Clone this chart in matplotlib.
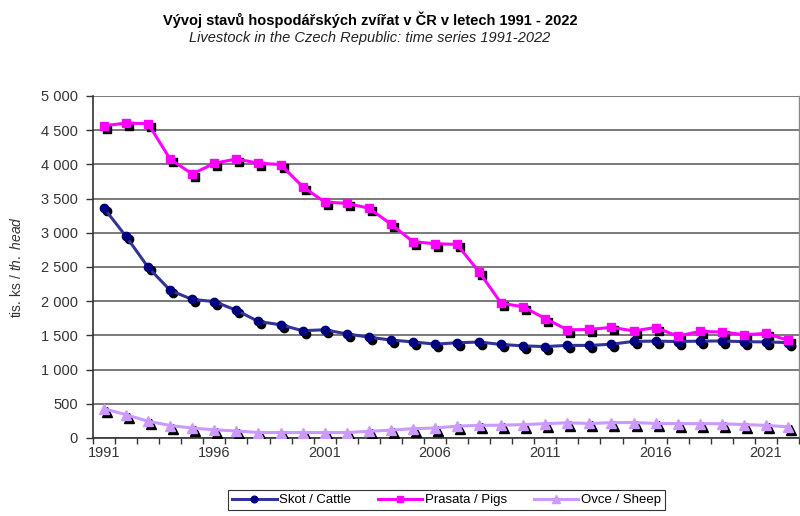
import matplotlib
matplotlib.use("Agg")
import matplotlib.pyplot as plt
import matplotlib.transforms as mtransforms
from matplotlib.ticker import FuncFormatter, FixedLocator
import numpy as np

# ============================================================
# Data (thousands of head)
# ============================================================
years = list(range(1991, 2023))

cattle = [3359, 2947, 2495, 2158, 2025, 1995, 1866, 1703, 1655, 1568,
          1582, 1522, 1474, 1432, 1405, 1372, 1392, 1403, 1367, 1347,
          1336, 1354, 1353, 1371, 1412, 1416, 1410, 1416, 1418, 1408,
          1404, 1395]

pigs = [4565, 4603, 4595, 4075, 3860, 4016, 4079, 4017, 3998, 3675,
        3450, 3430, 3360, 3129, 2870, 2840, 2830, 2428, 1971, 1918,
        1745, 1582, 1586, 1618, 1565, 1615, 1490, 1557, 1550, 1510,
        1528, 1430]

sheep = [428, 340, 245, 182, 145, 120, 102, 80, 80, 80,
         80, 80, 97, 114, 136, 146, 172, 185, 187, 196,
         209, 222, 212, 224, 226, 212, 210, 209, 208, 196,
         185, 162]

series = [
    ("Skot / Cattle", cattle, "#333399", "#000080", "o", 6),
    ("Prasata / Pigs", pigs, "#FF00FF", "#FF00FF", "s", 6),
    ("Ovce / Sheep", sheep, "#CC99FF", "#CC99FF", "^", 7),
]

title_cz = "Vývoj stavů hospodářských zvířat v ČR v letech 1991 - 2022"
title_en = "Livestock in the Czech Republic: time series 1991-2022"

# ============================================================
# Style
# ============================================================
plt.rcParams["font.family"] = ["Liberation Sans", "DejaVu Sans"]
plt.rcParams["mathtext.fontset"] = "custom"
plt.rcParams["mathtext.rm"] = "Liberation Sans"
plt.rcParams["mathtext.it"] = "Liberation Sans:italic"

fig = plt.figure(figsize=(8, 5.16), dpi=100)
ax = fig.add_axes([0.11625, 0.1512, 0.8825, 0.6628])

handles = []
for label, vals, lc, mc, mk, ms in series:
    # shadow markers, offset right/down like the Excel original
    shadow = mtransforms.offset_copy(ax.transData, fig=fig, x=3, y=-3, units="dots")
    ax.plot(years, vals, linestyle="none", marker=mk, markersize=ms,
            color="black", transform=shadow, zorder=3)
    h, = ax.plot(years, vals, color=lc, linewidth=2.2, marker=mk,
                 markersize=ms, markerfacecolor=mc, markeredgecolor=mc,
                 label=label, zorder=4)
    handles.append(h)

# ============================================================
# Axes
# ============================================================
ax.set_xlim(1990.5, 2022.5)
ax.set_ylim(0, 5000)

ax.set_yticks(np.arange(0, 5001, 500))
ax.yaxis.set_major_formatter(FuncFormatter(lambda v, p: f"{int(v):,}".replace(",", " ")))
ax.grid(axis="y", color="#6e6e6e", linewidth=1.3)
ax.set_axisbelow(True)

ax.xaxis.set_major_locator(FixedLocator(list(range(1991, 2023, 5))))
ax.xaxis.set_minor_locator(FixedLocator(list(np.arange(1990.5, 2023, 1.0))))
ax.tick_params(axis="x", which="major", length=0, labelsize=10.5, pad=6,
               labelcolor="#333333")
ax.tick_params(axis="x", which="minor", length=4, width=1, color="#333333")
ax.tick_params(axis="y", length=5, width=1, labelsize=10.5, color="#333333",
               labelcolor="#333333", pad=6)

for s in ["left", "bottom"]:
    ax.spines[s].set_color("#333333")
    ax.spines[s].set_linewidth(1.2)
ax.spines["top"].set_visible(False)
ax.spines["right"].set_color("#8a8a8a")
ax.spines["right"].set_linewidth(1)

ax.set_ylabel("tis. ks / $\\mathit{th.\\ head}$", fontsize=10, color="#333333")
ax.yaxis.set_label_coords(-69 / 706, 0.5)

# ============================================================
# Titles & legend
# ============================================================
fig.text(0.4625, 0.962, title_cz, ha="center", va="center",
         fontsize=10.5, fontweight="bold")
fig.text(0.4625, 0.926, title_en, ha="center", va="center",
         fontsize=10.5, style="italic", color="#222222")

leg = fig.legend(handles=handles, loc="center", bbox_to_anchor=(0.558, 0.031),
                 ncol=3, fontsize=9.5, frameon=True, fancybox=False,
                 handlelength=3.4, handletextpad=0.2, columnspacing=2.0,
                 borderpad=0.3, markerscale=0.8)
leg.get_frame().set_edgecolor("black")
leg.get_frame().set_linewidth(0.8)

fig.savefig("out.png", dpi=100)
plt.close(fig)
